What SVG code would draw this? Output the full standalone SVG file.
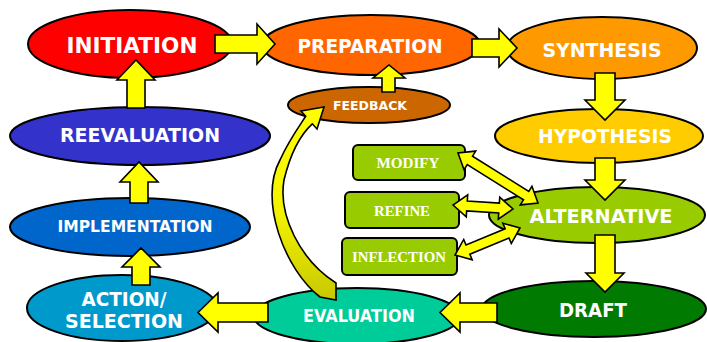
<svg xmlns="http://www.w3.org/2000/svg" width="707" height="342" viewBox="0 0 707 342">
<defs>
<linearGradient id="curveGrad" gradientUnits="userSpaceOnUse" x1="0" y1="107" x2="0" y2="300">
<stop offset="0" stop-color="#FFFF00"/>
<stop offset="0.55" stop-color="#F2F200"/>
<stop offset="1" stop-color="#C8C800"/>
</linearGradient>
</defs>
<style>
.node ellipse, .box rect { stroke: #000; stroke-width: 2; }
.lbl { font-family: "DejaVu Sans", "Liberation Sans", sans-serif; font-weight: bold; fill: #fff; text-anchor: middle; }
.blbl { font-family: "Liberation Serif", "DejaVu Serif", serif; font-weight: bold; fill: #fff; text-anchor: middle; font-size: 15px; }
.arr { fill: #FFFF00; stroke: #000; stroke-width: 1.6; stroke-linejoin: miter; }
</style>
<rect width="707" height="342" fill="#fff"/>

<g id="initiation" class="node"><ellipse cx="130" cy="44" rx="102" ry="34" fill="#FF0000"/><text class="lbl" x="132" y="53" font-size="22" textLength="131" lengthAdjust="spacingAndGlyphs">INITIATION</text></g>
<g id="preparation" class="node"><ellipse cx="371" cy="45" rx="109" ry="30" fill="#FF6600"/><text class="lbl" x="370" y="53" font-size="20" textLength="145" lengthAdjust="spacingAndGlyphs">PREPARATION</text></g>
<g id="synthesis" class="node"><ellipse cx="602" cy="48" rx="95" ry="31" fill="#FF9900"/><text class="lbl" x="602" y="57" font-size="19" textLength="119" lengthAdjust="spacingAndGlyphs">SYNTHESIS</text></g>
<g id="hypothesis" class="node"><ellipse cx="599" cy="136" rx="104" ry="27" fill="#FFCC00"/><text class="lbl" x="605" y="143" font-size="19" textLength="134" lengthAdjust="spacingAndGlyphs">HYPOTHESIS</text></g>
<g id="alternative" class="node"><ellipse cx="597" cy="215" rx="108" ry="28" fill="#99CC00"/><text class="lbl" x="601" y="223" font-size="19" textLength="143" lengthAdjust="spacingAndGlyphs">ALTERNATIVE</text></g>
<g id="draft" class="node"><ellipse cx="594" cy="309" rx="112" ry="28" fill="#007A00"/><text class="lbl" x="593" y="317" font-size="19" textLength="68" lengthAdjust="spacingAndGlyphs">DRAFT</text></g>
<g id="evaluation" class="node"><ellipse cx="357" cy="316" rx="103" ry="28" fill="#00CC99"/><text class="lbl" x="359" y="322" font-size="18" textLength="112" lengthAdjust="spacingAndGlyphs">EVALUATION</text></g>
<g id="action" class="node"><ellipse cx="122" cy="308" rx="95" ry="33" fill="#0099CC"/><text class="lbl" x="124" y="306" font-size="19" textLength="85" lengthAdjust="spacingAndGlyphs">ACTION/</text><text class="lbl" x="124" y="328" font-size="19" textLength="118" lengthAdjust="spacingAndGlyphs">SELECTION</text></g>
<g id="implementation" class="node"><ellipse cx="130" cy="227" rx="120" ry="29" fill="#0066CC"/><text class="lbl" x="135" y="232" font-size="16" textLength="155" lengthAdjust="spacingAndGlyphs">IMPLEMENTATION</text></g>
<g id="reevaluation" class="node"><ellipse cx="140" cy="136" rx="130" ry="29" fill="#3333CC"/><text class="lbl" x="140" y="142" font-size="19" textLength="160" lengthAdjust="spacingAndGlyphs">REEVALUATION</text></g>
<g id="feedback" class="node"><ellipse cx="369" cy="105" rx="81" ry="18" fill="#CC6600"/><text class="lbl" x="370" y="110" font-size="12" textLength="74" lengthAdjust="spacingAndGlyphs">FEEDBACK</text></g>
<g id="modify" class="box"><rect x="353" y="145" width="112" height="35" rx="5" fill="#99CC00"/><text class="blbl" x="408" y="168" textLength="63" lengthAdjust="spacingAndGlyphs">MODIFY</text></g>
<g id="refine" class="box"><rect x="345" y="192" width="114" height="36" rx="5" fill="#99CC00"/><text class="blbl" x="402" y="216" textLength="56" lengthAdjust="spacingAndGlyphs">REFINE</text></g>
<g id="inflection" class="box"><rect x="342" y="238" width="115" height="37" rx="5" fill="#99CC00"/><text class="blbl" x="399" y="262" textLength="94" lengthAdjust="spacingAndGlyphs">INFLECTION</text></g>

<g id="connectors">
<polygon class="arr" points="215,35 257,35 257,24 275,44 257,64 257,53 215,53"/>
<polygon class="arr" points="472,39 499,39 499,29 517,48 499,67 499,57 472,57"/>
<polygon class="arr" points="595,73 615,73 615,100 625,100 605,120 585,100 595,100"/>
<polygon class="arr" points="595,158 615,158 615,180 625,180 605,200 585,180 595,180"/>
<polygon class="arr" points="595,235 615,235 615,273 624,273 605,292 586,273 595,273"/>
<polygon class="arr" points="497,303 460,303 460,293 440,312.5 460,332 460,322 497,322"/>
<polygon class="arr" points="268,303 218,303 218,293 198,312.5 218,332 218,322 268,322"/>
<polygon class="arr" points="132,285 132,267 122,267 141,248 160,267 150,267 150,285"/>
<polygon class="arr" points="130,203 130,182 120,182 139,162 158,182 148,182 148,203"/>
<polygon class="arr" points="127,108 127,80 117,80 136,60 155,80 145,80 145,108"/>
<polygon class="arr" points="382,92 382,78 373,78 389,65 405,78 395,78 395,92"/>
<polygon class="arr" points="458,153 464.05,169.75 467.23,164.66 523.47,199.82 520.29,204.91 538,203 531.95,186.25 528.77,191.34 472.53,156.18 475.71,151.09"/>
<polygon class="arr" points="453,205 466.24,216.91 466.64,210.92 498.7,213.06 498.3,219.05 513,209 499.76,197.09 499.36,203.08 467.3,200.94 467.7,194.95"/>
<polygon class="arr" points="455,255 472.15,259.79 469.85,254.25 508.99,237.99 511.29,243.53 520,228 502.85,223.21 505.15,228.75 466.01,245.01 463.71,239.47"/>
<path d="M 336 283 L 336 300 L 320 297 C 285 270 258 200 280 160 C 288 142 298 128 305.7 116.3 L 301 111 L 324 107 L 317 129 L 312.3 123.8 C 300 135 290 155 284 180 C 278 215 300 260 336 283 Z" fill="url(#curveGrad)" stroke="#000" stroke-width="1.6"/>
</g>
</svg>
